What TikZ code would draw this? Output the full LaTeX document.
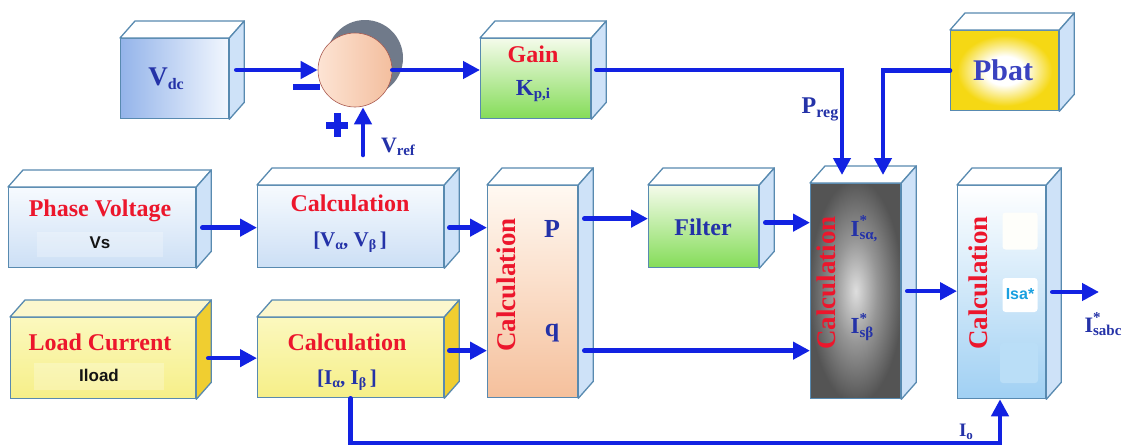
\documentclass[tikz,border=0pt]{standalone}
\usepackage{fontspec}
\setmainfont{Liberation Serif}
\newfontfamily\sansfam{Liberation Sans}
\usetikzlibrary{arrows.meta,calc}

\definecolor{edge}{RGB}{88,138,176}
\definecolor{arrblue}{RGB}{18,34,226}
\definecolor{txtblue}{RGB}{36,50,168}
\definecolor{txtred}{RGB}{236,22,44}
\definecolor{sideblue}{RGB}{206,226,248}
\definecolor{sidegold}{RGB}{240,206,48}
\definecolor{topyellow}{RGB}{251,247,205}
\definecolor{shadegray}{RGB}{112,122,138}
\definecolor{cyantxt}{RGB}{26,160,224}
\definecolor{pbyellow}{RGB}{245,216,20}
\definecolor{graylight}{RGB}{222,222,222}
\definecolor{graymid}{RGB}{150,150,150}
\definecolor{graydark}{RGB}{84,84,84}

% radial fills with a wide bright centre
\pgfdeclareradialshading{pbatglow}{\pgfpoint{0bp}{0bp}}{%
  color(0bp)=(white); color(9bp)=(white); color(22bp)=(pbyellow); color(50bp)=(pbyellow)}
\pgfdeclareradialshading{greyglow}{\pgfpoint{0bp}{0bp}}{%
  color(0bp)=(graylight); color(12bp)=(graymid); color(26bp)=(graydark); color(50bp)=(graydark)}

\newcommand\fs[1]{\fontsize{#1}{#1}\selectfont}
% lowered / raised small text
\newcommand\subtx[2]{\raisebox{-0.35ex}{\fs{#1}#2}}
\newcommand\supsub[3]{\rlap{\raisebox{1.0ex}{\fs{#1}#2}}\raisebox{-0.35ex}{\fs{#1}#3}}

% 3D block: name, x, y (front top-left), width, height, front style, top fill, side fill
\newcommand\cube[8]{%
  \node[boxface,#6,minimum width=#4pt,minimum height=#5pt,anchor=north west] (#1) at (#2,#3) {};
  \draw[boxedge,fill=#7] (#1.north west) -- ++(15,-17) -- ([shift={(15,-17)}]#1.north east) -- (#1.north east) -- cycle;
  \draw[boxedge,fill=#8] (#1.north east) -- ++(15,-17) -- ([shift={(15,-17)}]#1.south east) -- (#1.south east) -- cycle;
}

\begin{document}
\begin{tikzpicture}[x=1pt,y=-1pt,
  boxface/.style={draw=edge,line width=1.3pt,inner sep=0pt},
  boxedge/.style={draw=edge,line width=1.3pt,line join=round},
  arr/.style={draw=arrblue,line width=4.6pt,line cap=round,-{Triangle[length=17pt,width=17pt]}},
  lbl/.style={inner sep=0pt},
  title/.style={lbl,text=txtred,font=\fs{24}\bfseries},
  vtitle/.style={lbl,text=txtred,font=\fs{27}\bfseries,rotate=90},
  var/.style={lbl,text=txtblue,font=\fs{22}\bfseries},
  plain/.style={lbl,text=black!92,font=\sansfam\bfseries\fs{17}},
  patch/.style={inner sep=0pt,rounded corners=3pt}
]
\useasboundingbox (0,0) rectangle (1129,447);
\fill[white] (0,0) rectangle (1129,447);

% ---------- blocks ----------
\cube{vdc}{120}{38}{108}{80}{left color={rgb,255:red,148;green,180;blue,234},right color={rgb,255:red,242;green,247;blue,254}}{white}{sideblue}
\cube{gain}{480}{38}{110}{80}{top color={rgb,255:red,244;green,251;blue,234},bottom color={rgb,255:red,132;green,220;blue,88}}{white}{sideblue}
\cube{pbat}{950}{30}{108}{80}{shading=pbatglow}{white}{sideblue}
\cube{pv}{8}{187}{187}{80}{top color={rgb,255:red,246;green,250;blue,254},bottom color={rgb,255:red,204;green,223;blue,245}}{white}{sideblue}
\cube{calc1}{257}{185}{186}{82}{top color={rgb,255:red,246;green,250;blue,254},bottom color={rgb,255:red,204;green,223;blue,245}}{white}{sideblue}
\cube{lc}{10}{317}{185}{81}{top color={rgb,255:red,251;green,248;blue,190},bottom color={rgb,255:red,246;green,239;blue,136}}{topyellow}{sidegold}
\cube{calc2}{257}{317}{186}{80}{top color={rgb,255:red,251;green,248;blue,190},bottom color={rgb,255:red,246;green,239;blue,136}}{topyellow}{sidegold}
\cube{pq}{487}{185}{90}{212}{top color={rgb,255:red,255;green,249;blue,242},bottom color={rgb,255:red,245;green,192;blue,156}}{white}{sideblue}
\cube{filter}{648}{185}{110}{82}{top color={rgb,255:red,244;green,251;blue,234},bottom color={rgb,255:red,132;green,220;blue,88}}{white}{sideblue}
\cube{calc3}{810}{183}{90}{215}{shading=greyglow}{white}{sideblue}
\cube{calc4}{957}{185}{88}{213}{top color=white,middle color={rgb,255:red,236;green,246;blue,253},bottom color={rgb,255:red,160;green,208;blue,243}}{white}{sideblue}

% light bands behind small texts
\node[fill=white,opacity=0.25,inner sep=0pt,minimum width=126pt,minimum height=25pt] (vsband) at (100,244) {};
\node[fill=white,opacity=0.25,inner sep=0pt,minimum width=130pt,minimum height=27pt] (ilband) at (99,376) {};
\node[patch,fill={rgb,255:red,254;green,254;blue,250},minimum width=35pt,minimum height=37pt] (c4up) at (1020,231) {};
\node[patch,fill=white,minimum width=35pt,minimum height=34pt] (c4mid) at (1020,295) {};
\node[patch,fill={rgb,255:red,186;green,222;blue,247},minimum width=38pt,minimum height=40pt] (c4low) at (1019,363) {};

% ---------- summing junction ----------
\node[circle,fill=shadegray,minimum size=76pt,inner sep=0pt] (sumshade) at (365,58) {};
\node[circle,draw={rgb,255:red,170;green,90;blue,80},line width=0.6pt,minimum size=74pt,inner sep=0pt,
      left color={rgb,255:red,253;green,228;blue,212},right color={rgb,255:red,243;green,190;blue,158}] (sum) at (355,70) {};
\node[fill=arrblue,minimum width=27pt,minimum height=6pt,inner sep=0pt] (minus) at (306,87) {};
\node[fill=arrblue,minimum width=22pt,minimum height=7pt,inner sep=0pt] (plush) at (337,125) {};
\node[fill=arrblue,minimum width=7pt,minimum height=24pt,inner sep=0pt] (plusv) at (337,125) {};

% ---------- texts ----------
\node[var,font=\fs{27}\bfseries] (tvdc) at (166,79) {V\subtx{16}{dc}};
\node[title] (tgain) at (533,54) {Gain};
\node[var,font=\fs{23}\bfseries] (tkpi) at (533,91) {K\subtx{15}{p,i}};
\node[lbl,text={rgb,255:red,58;green,66;blue,192},font=\fs{30}\bfseries] (tpbat) at (1003,70) {Pbat};
\node[title] (tpv) at (100,211) {Phase Voltage};
\node[plain] (tvs) at (100,243) {Vs};
\node[title] (tc1) at (350,203) {Calculation};
\node[var,font=\fs{21}\bfseries] (tvab) at (350,242) {[V\subtx{14}{α}, V\subtx{14}{β}\,]};
\node[title] (tlc) at (100,342) {Load Current};
\node[plain] (tiload) at (99,375) {Iload};
\node[title] (tc2) at (347,342) {Calculation};
\node[var,font=\fs{21}\bfseries] (tiab) at (347,380) {[I\subtx{14}{α}, I\subtx{14}{β}\,]};
\node[vtitle] (tc3) at (506,285) {Calculation};
\node[var,font=\fs{26}\bfseries] (tp) at (552,229) {P};
\node[var,font=\fs{26}\bfseries] (tq) at (552,333) {q};
\node[lbl,text=txtblue,font=\fs{24}\bfseries] (tfilter) at (703,227) {Filter};
\node[vtitle] (tc4) at (826,283) {Calculation};
\node[var,font=\fs{23}\bfseries] (tisa) at (864,229) {I\supsub{15}{*}{sα,}};
\node[var,font=\fs{23}\bfseries] (tisb) at (862,327) {I\supsub{15}{*}{sβ}};
\node[vtitle] (tc5) at (978,283) {Calculation};
\node[lbl,text=cyantxt,font=\sansfam\bfseries\fs{16}] (tisastar) at (1020,294) {Isa*};
\node[var,font=\fs{22}\bfseries] (tsabc) at (1103,324) {I\supsub{15}{*}{sabc}};
\node[var,font=\fs{19}\bfseries] (tio) at (966,432) {I\subtx{13}{o}};
\node[var,font=\fs{22}\bfseries] (tvref) at (398,147) {V\subtx{15}{ref}};
\node[var,font=\fs{24}\bfseries] (tpreg) at (820,109) {P\subtx{16}{reg}};

% ---------- connectors ----------
\coordinate (vrefin) at (363,155);
\coordinate (sabcout) at (1099,292);
\coordinate (iobend) at (1000,443);

\draw[arr] ($(vdc.east |- sum.west)+(7,0)$) -- (sum.west);
\draw[arr] (vrefin) -- (vrefin |- sum.south);
\draw[arr] (sum.east) -- (gain.west |- sum.east);
\draw[arr] ($(gain.east |- sum.east)+(5,0)$) -| ($(calc3.north west)+(32,-8)$);
\draw[arr] (pbat.west) -| ($(calc3.north west)+(73,-8)$);
\draw[arr] ($(pv.east)+(6,0)$) -- (calc1.west |- pv.east);
\draw[arr] ($(calc1.east)+(5,1)$) -- ($(pq.west |- calc1.east)+(0,1)$);
\draw[arr] ($(lc.east)+(12,0)$) -- (calc2.west |- lc.east);
\draw[arr] ($(calc2.east)+(5,-7)$) -- ($(pq.west |- calc2.east)+(0,-7)$);
\draw[arr] ($(pq.east |- filter.west)+(6,-8)$) -- ($(filter.west)+(0,-8)$);
\draw[arr] ($(pq.east |- calc2.east)+(6,-7)$) -- ($(calc3.west |- calc2.east)+(0,-7)$);
\draw[arr] ($(filter.east)+(6,-4)$) -- ($(calc3.west |- filter.east)+(0,-4)$);
\draw[arr] ($(calc3.east)+(6,0)$) -- (calc4.west |- calc3.east);
\draw[arr] ($(calc4.east |- sabcout)+(6,0)$) -- (sabcout);
\draw[arr] (calc2.south) |- (iobend) -- (iobend |- calc4.south);
\end{tikzpicture}
\end{document}
